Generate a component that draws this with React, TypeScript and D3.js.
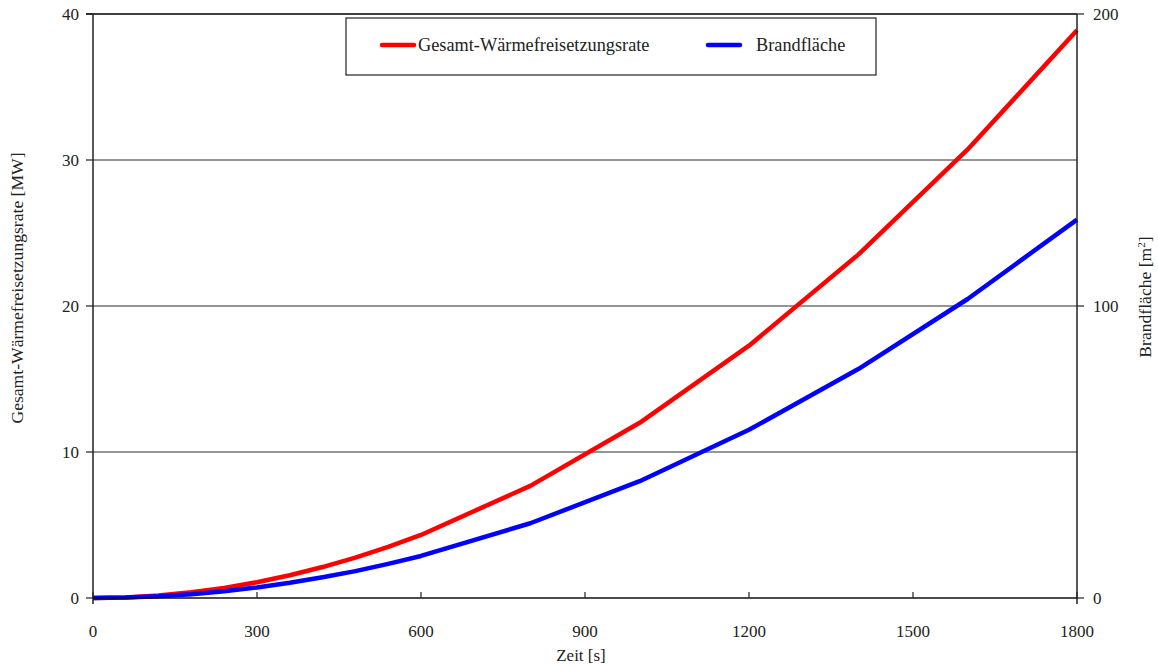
import * as d3 from 'd3'

// time [s]
const zeit = [0, 60, 120, 180, 240, 300, 360, 420, 480, 540, 600, 800, 1000, 1200, 1400, 1600, 1800]
// heat release rate [MW]
const waerme = [0, 0.04, 0.17, 0.39, 0.69, 1.08, 1.56, 2.12, 2.76, 3.5, 4.32, 7.68, 12.0, 17.28, 23.52, 30.72, 38.88]
// fire area [m2]
const flaeche = [0, 0.14, 0.58, 1.3, 2.3, 3.6, 5.2, 7.1, 9.2, 11.7, 14.4, 25.6, 40.0, 57.6, 78.4, 102.4, 129.6]

const xTicks = [0, 300, 600, 900, 1200, 1500, 1800]
const yLeftTicks = [0, 10, 20, 30, 40]
const yRightTicks = [0, 100, 200]

const W = 1158
const H = 666
const font = '"Liberation Serif", "DejaVu Serif", serif'

export default function App() {
  const x = d3.scaleLinear().domain([0, 1800]).range([93, 1077])
  const yL = d3.scaleLinear().domain([0, 40]).range([598, 14])
  const yR = d3.scaleLinear().domain([0, 200]).range([598, 14])

  const lineL = d3.line<number>().x((d, i) => x(zeit[i])).y(d => yL(d))
  const lineR = d3.line<number>().x((d, i) => x(zeit[i])).y(d => yR(d))

  return (
    <svg width={W} height={H} style={{ position: 'absolute', left: 0, top: 0, fontFamily: font, fontSize: 17 }}
      fill="#222">
      {/* grid */}
      {yLeftTicks.filter(t => t > 0 && t < 40).map(t => (
        <line key={t} x1={93} x2={1077} y1={yL(t)} y2={yL(t)} stroke="#2a2a2a" strokeWidth={1} />
      ))}
      <line x1={86} x2={1077} y1={yL(40)} y2={yL(40)} stroke="#000" strokeWidth={1.3} />

      {/* curves */}
      <path d={lineL(waerme) || ''} fill="none" stroke="#ff0000" strokeWidth={4.5} strokeLinejoin="round" />
      <path d={lineR(flaeche) || ''} fill="none" stroke="#0000ff" strokeWidth={4.5} strokeLinejoin="round" />

      {/* axes */}
      <line x1={93} x2={93} y1={14} y2={604} stroke="#222" strokeWidth={1.5} />
      <line x1={1077} x2={1077} y1={14} y2={604} stroke="#222" strokeWidth={1.5} />
      <line x1={93} x2={1077} y1={598} y2={598} stroke="#111" strokeWidth={1.5} />

      {yLeftTicks.map(t => (
        <g key={t}>
          <line x1={86} x2={93} y1={yL(t)} y2={yL(t)} stroke="#222" strokeWidth={1.2} />
          <text x={79} y={yL(t)} dy="0.33em" textAnchor="end">{t}</text>
        </g>
      ))}
      {yRightTicks.map(t => (
        <g key={t}>
          <line x1={1077} x2={1084} y1={yR(t)} y2={yR(t)} stroke="#222" strokeWidth={1.2} />
          <text x={1093} y={yR(t)} dy="0.33em" textAnchor="start">{t}</text>
        </g>
      ))}
      {xTicks.map(t => (
        <g key={t}>
          <line x1={x(t)} x2={x(t)} y1={598} y2={592} stroke="#222" strokeWidth={1.2} />
          <text x={x(t)} y={637} textAnchor="middle">{t}</text>
        </g>
      ))}

      {/* axis titles */}
      <text x={581} y={661} textAnchor="middle">Zeit [s]</text>
      <text transform="translate(23,288) rotate(-90)" textAnchor="middle" fontSize={17.6}>Gesamt-Wärmefreisetzungsrate [MW]</text>
      <text transform="translate(1151,297) rotate(-90)" textAnchor="middle" fontSize={17.6}>
        Brandfläche [m<tspan fontSize={11} dy={-6}>2</tspan><tspan dy={6}>]</tspan>
      </text>

      {/* legend */}
      <rect x={346} y={18} width={530} height={57} fill="#fff" stroke="#222" strokeWidth={1.2} />
      <line x1={382} x2={414} y1={45} y2={45} stroke="#ff0000" strokeWidth={4.5} strokeLinecap="round" />
      <text x={418} y={51} fontSize={18.3}>Gesamt-Wärmefreisetzungsrate</text>
      <line x1={708} x2={740} y1={45} y2={45} stroke="#0000ff" strokeWidth={4.5} strokeLinecap="round" />
      <text x={756} y={51} fontSize={18.3}>Brandfläche</text>
    </svg>
  )
}
